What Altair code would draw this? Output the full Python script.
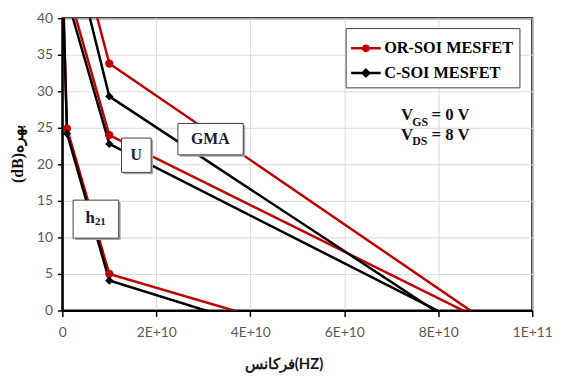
import altair as alt
import pandas as pd

# ---------------- data ----------------
series_names = ["OR-SOI MESFET", "C-SOI MESFET"]
series_colors = ["#C00000", "#000000"]

freq_h21 = [1e8, 1e9, 1e10, 1e11]
freq_ug = [1e9, 1e10, 1e11]

h21_or = [44.9, 24.9, 5.0, -12.0]
h21_c = [44.2, 24.2, 4.1, -13.9]
u_or = [44.3, 24.0, -4.7]
u_c = [42.8, 22.8, -6.6]
gma_or = [55.8, 33.8, -5.8]
gma_c = [52.7, 29.3, -8.8]

x_ticks = [0, 2e10, 4e10, 6e10, 8e10, 1e11]
y_ticks = [0, 5, 10, 15, 20, 25, 30, 35, 40]

box_names = ["GMA", "U", "h21"]
box_x0 = [24.6e9, 12.6e9, 2.3e9]
box_x1 = [38.5e9, 18.9e9, 12.0e9]
box_y0 = [21.3, 18.9, 9.9]
box_y1 = [25.6, 23.6, 15.1]
box_cx = [31.5e9, 15.75e9, 7.15e9]
box_cy = [23.45, 21.25, 12.5]

bias_main = ["V", "V"]
bias_sub = ["GS", "DS"]
bias_rest = ["= 0 V", "= 8 V"]
bias_x = [72.06e9, 72.06e9]
bias_y = [26.1, 23.4]

x_title = "فرکانس(HZ)"
y_title = "(dB)بهره"

rows = []
for s, curve, freqs, vals in [
    (series_names[0], "h21", freq_h21, h21_or),
    (series_names[1], "h21", freq_h21, h21_c),
    (series_names[0], "U", freq_ug, u_or),
    (series_names[1], "U", freq_ug, u_c),
    (series_names[0], "GMA", freq_ug, gma_or),
    (series_names[1], "GMA", freq_ug, gma_c),
]:
    for i, (f, v) in enumerate(zip(freqs, vals)):
        rows.append({"series": s, "curve": curve, "freq": f, "gain": v, "idx": i})
df = pd.DataFrame(rows)

boxes = pd.DataFrame({"name": box_names, "freq": box_x0, "freq2": box_x1,
                      "gain": box_y0, "gain2": box_y1})
box_centers = pd.DataFrame({"name": box_names, "freq": box_cx, "gain": box_cy})
bias = pd.DataFrame({"main": bias_main, "sub": bias_sub, "rest": bias_rest,
                     "freq": bias_x, "gain": bias_y})

xscale = alt.Scale(domain=[0, 1e11], nice=False, zero=False)
yscale = alt.Scale(domain=[0, 40], nice=False)

x_axis = alt.Axis(
    values=x_ticks, tickCount=20,
    labelExpr="datum.value == 0 ? '0' : upper(format(datum.value, '.0e'))",
    labelOverlap=False, labelFlush=False,
    title=x_title, titleFont="Lato", titleFontWeight="bold", titleFontSize=15,
    titleColor="#1a1a1a", titleX=224, titleY=54, titleBaseline="middle",
    labelPadding=9, tickSize=6,
)
y_axis = alt.Axis(
    values=y_ticks, tickCount=20, labelOverlap=False, labelFlush=False,
    title=y_title, titleFont="Liberation Serif",
    titleFontWeight="bold", titleFontSize=16, titleColor="#111111",
    titleX=-45, titleY=137, titleBaseline="middle", titleAngle=270,
    labelPadding=5, tickSize=5,
)
X = alt.X("freq:Q", scale=xscale, axis=x_axis)
Y = alt.Y("gain:Q", scale=yscale, axis=y_axis)

color_scale = alt.Scale(domain=series_names, range=series_colors)


def make_legend():
    return alt.Legend(
        title=None, orient="none", legendX=287, legendY=10, padding=6,
        strokeColor="#404040", fillColor="white",
        labelFont="Liberation Serif", labelFontWeight="bold", labelFontSize=16.5,
        labelColor="#000000", symbolSize=676, symbolStrokeWidth=2.5,
        labelOffset=4, rowPadding=2,
    )


lines = alt.Chart(df).mark_line(clip=True, strokeWidth=2.5).encode(
    x=X, y=Y,
    color=alt.Color("series:N", scale=color_scale, legend=make_legend()),
    detail="curve:N", order="idx:Q",
)

red_pts = alt.Chart(df).transform_filter(
    alt.datum.series == series_names[0]
).mark_point(shape="circle", filled=True, size=70, opacity=1,
             color=series_colors[0], clip=True).encode(x=X, y=Y)

black_pts = alt.Chart(df).transform_filter(
    alt.datum.series == series_names[1]
).mark_point(shape="diamond", filled=True, size=70, opacity=1,
             color=series_colors[1], clip=True).encode(x=X, y=Y)

legend_paths = [
    "M-1.15,0L1.15,0M-0.2,0A0.2,0.2,0,1,0,0.2,0A0.2,0.2,0,1,0,-0.2,0Z",
    "M-1.15,0L1.15,0M0,-0.25L0.25,0L0,0.25L-0.25,0Z",
]

legend_layer = alt.Chart(df).transform_filter(
    alt.datum.gain < 0
).mark_point(filled=True, opacity=1, clip=True, strokeWidth=2.5).encode(
    x=X, y=Y,
    fill=alt.Fill("series:N", scale=color_scale, legend=make_legend()),
    stroke=alt.Stroke("series:N", scale=color_scale, legend=make_legend()),
    shape=alt.Shape("series:N", scale=alt.Scale(domain=series_names, range=legend_paths),
                    legend=make_legend()),
)

shadow = alt.Chart(boxes).mark_rect(
    color="#a6a6a6", xOffset=2, x2Offset=2, yOffset=2, y2Offset=2
).encode(x=X, x2="freq2:Q", y=Y, y2="gain2:Q")
box = alt.Chart(boxes).mark_rect(
    fill="white", stroke="#404040", strokeWidth=1
).encode(x=X, x2="freq2:Q", y=Y, y2="gain2:Q")

box_text = alt.Chart(box_centers).transform_filter(
    alt.datum.name != "h21"
).mark_text(font="Liberation Serif", fontWeight="bold", fontSize=16,
            color="#1a1a33", baseline="alphabetic", dy=5).encode(
    x=X, y=Y, text="name:N")

h_text = alt.Chart(box_centers).transform_filter(
    alt.datum.name == "h21"
).mark_text(font="Liberation Serif", fontWeight="bold", fontSize=17,
            color="#1a1a33", baseline="alphabetic", align="right", dx=-1, dy=4).encode(
    x=X, y=Y, text=alt.value("h"))
sub21_text = alt.Chart(box_centers).transform_filter(
    alt.datum.name == "h21"
).mark_text(font="Liberation Serif", fontWeight="bold", fontSize=11,
            color="#1a1a33", baseline="alphabetic", align="left", dx=-1, dy=6).encode(
    x=X, y=Y, text=alt.value("21"))

v_main = alt.Chart(bias).mark_text(
    font="Liberation Serif", fontWeight="bold", fontSize=17, color="#111111",
    baseline="alphabetic", align="left").encode(x=X, y=Y, text="main:N")
v_sub = alt.Chart(bias).mark_text(
    font="Liberation Serif", fontWeight="bold", fontSize=12, color="#111111",
    baseline="alphabetic", align="left", dx=11.5, dy=6).encode(x=X, y=Y, text="sub:N")
v_rest = alt.Chart(bias).mark_text(
    font="Liberation Serif", fontWeight="bold", fontSize=17, color="#111111",
    baseline="alphabetic", align="left", dx=31).encode(x=X, y=Y, text="rest:N")

chart = alt.layer(
    lines, red_pts, black_pts, legend_layer, shadow, box, box_text, h_text,
    sub21_text, v_main, v_sub, v_rest
).properties(
    width=476, height=296,
    autosize=alt.AutoSizeParams(type="none"),
    padding={"left": 55, "top": 8, "right": 22, "bottom": 64},
).configure_view(
    stroke="black", strokeWidth=2
).configure_axis(
    domainColor="black", domainWidth=2, tickColor="black", tickWidth=1.5,
    gridColor="#d9d9d9", gridWidth=1,
    labelFont="Lato", labelFontSize=14, labelColor="#595959",
)

chart.save("out.html", embed_options={"renderer": "svg", "actions": False})
